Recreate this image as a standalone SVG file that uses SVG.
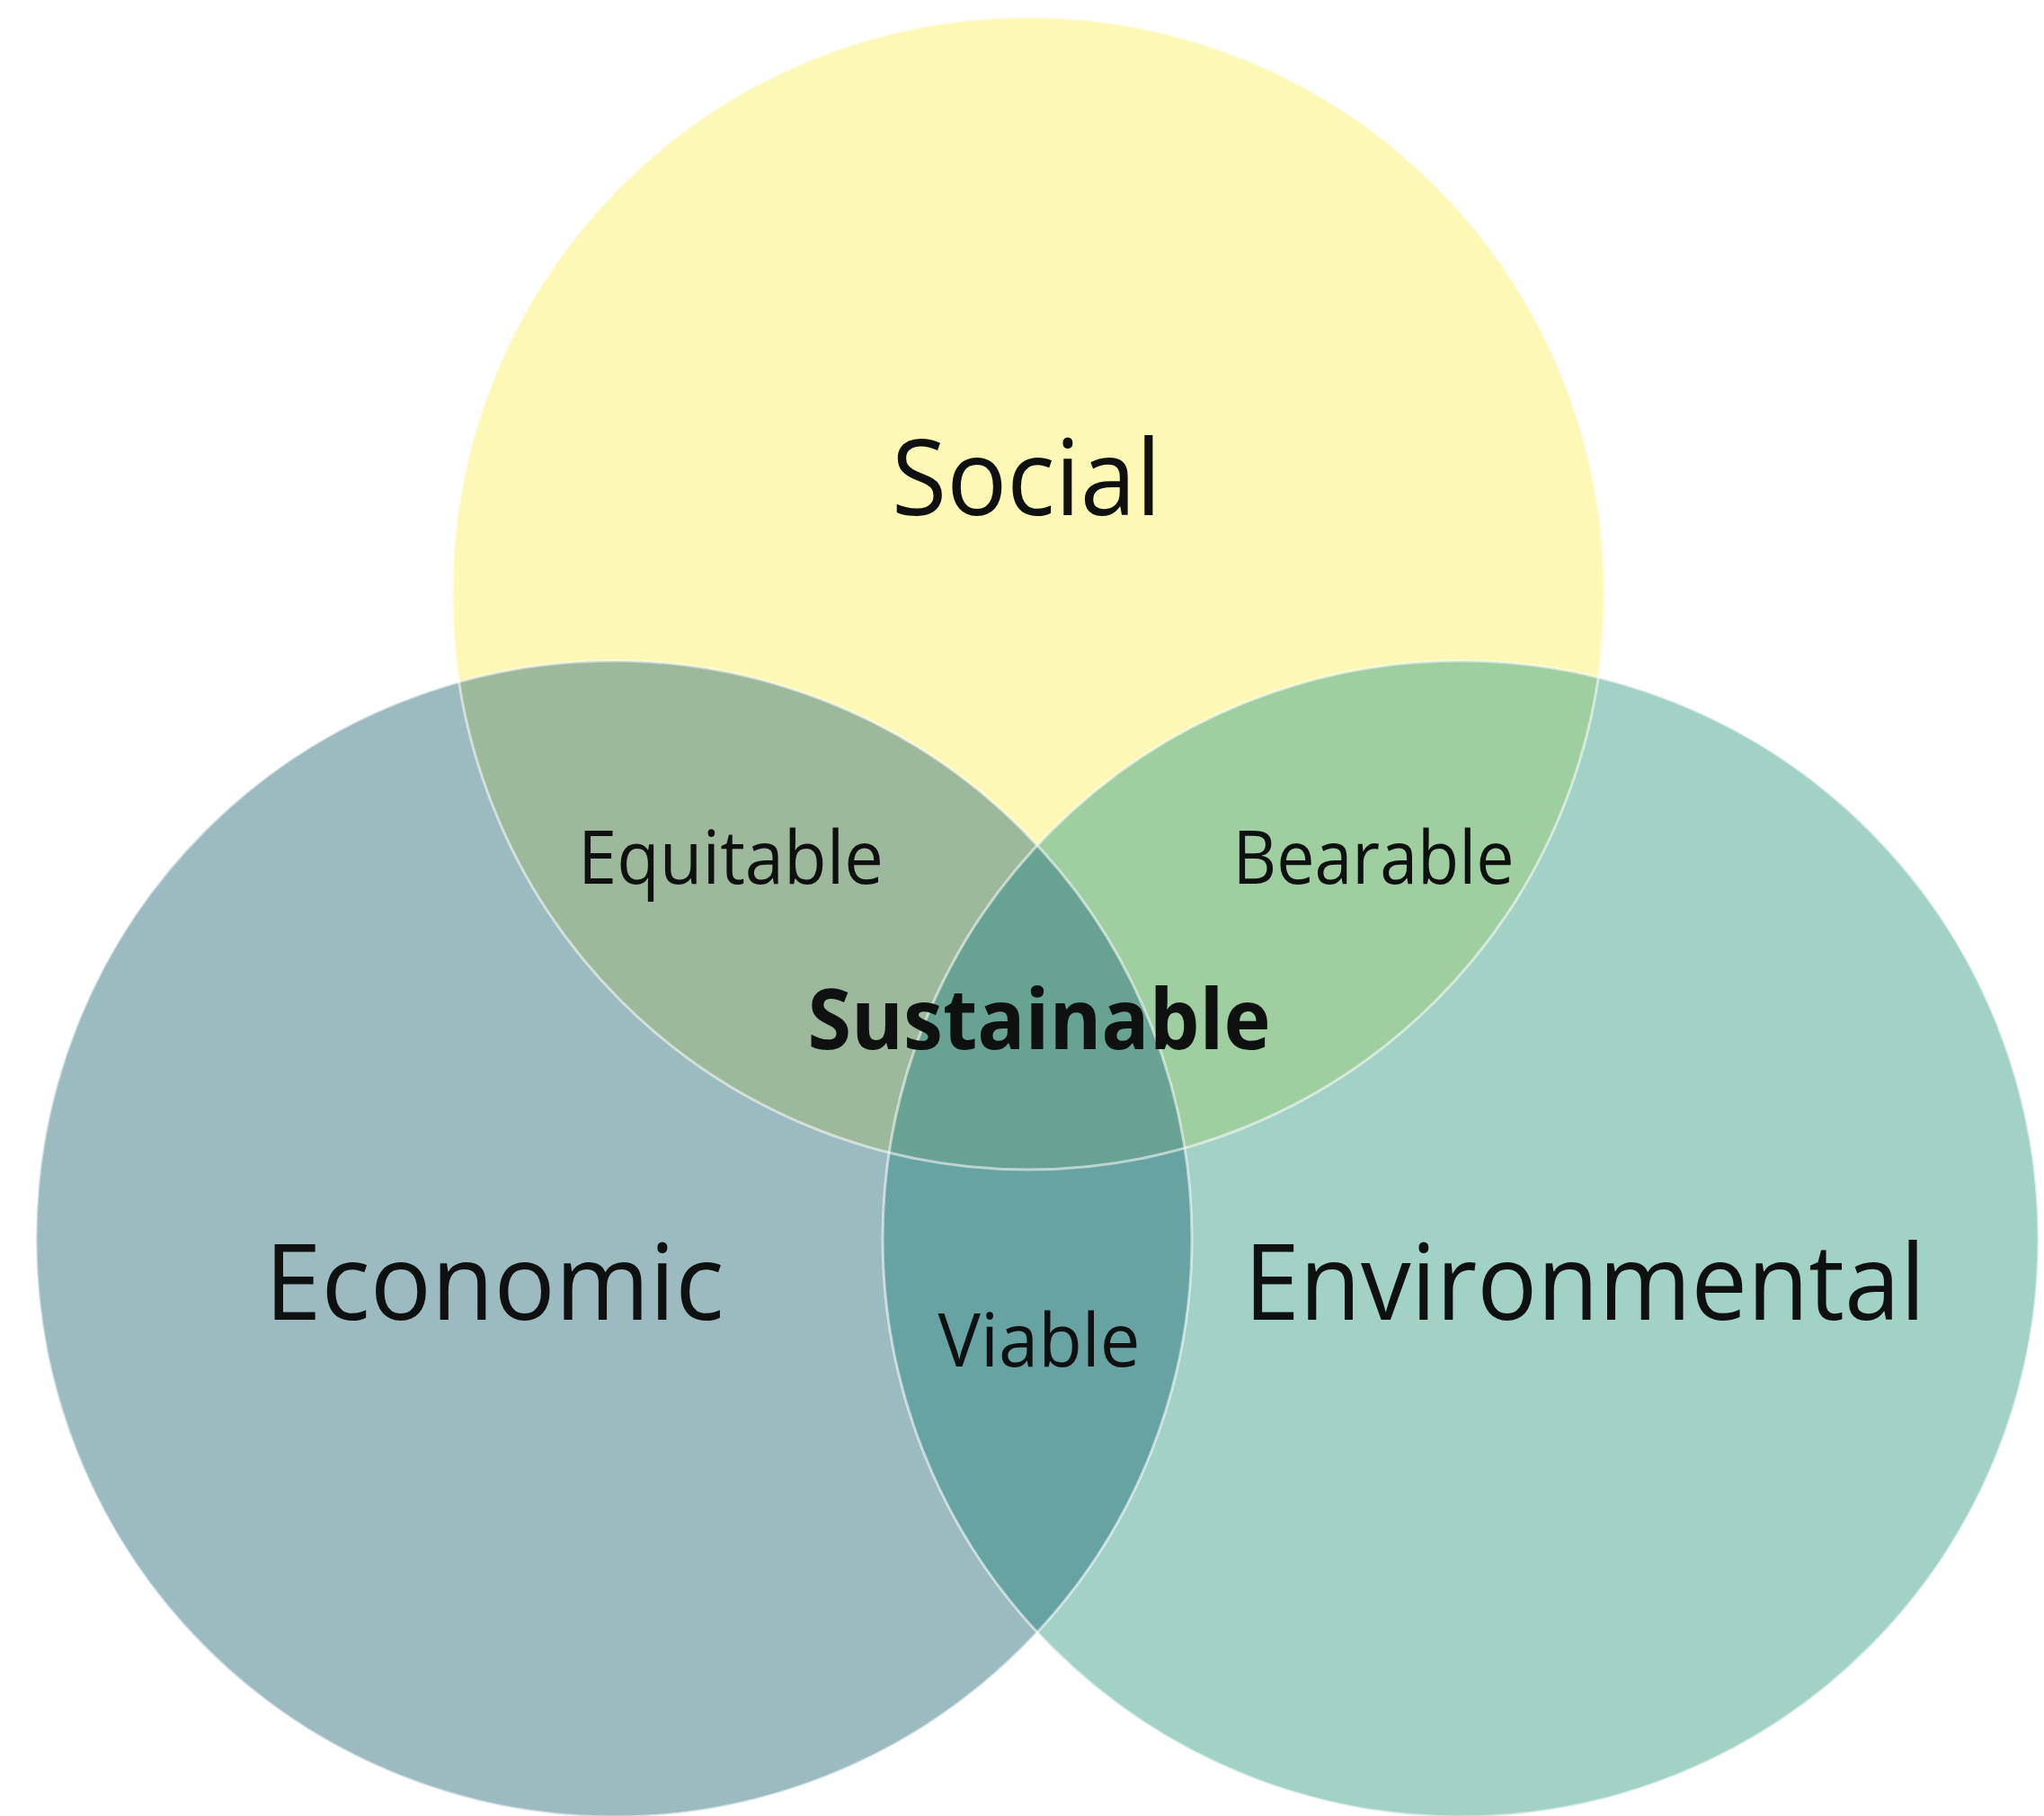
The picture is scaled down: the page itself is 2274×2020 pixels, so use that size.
<svg xmlns="http://www.w3.org/2000/svg" width="2274" height="2020" viewBox="0 0 2274 2020">
<style>
  text { font-family: "Open Sans", "Noto Sans", "DejaVu Sans", sans-serif; fill: #0e1110; text-anchor: middle; }
  .big { font-size: 118px; }
  .mid { font-size: 82px; }
  .bold { font-size: 94px; font-weight: 700; }
  .edge { fill: none; stroke: #ffffff; stroke-opacity: 0.55; stroke-width: 3; }
</style>
<defs>
  <circle id="cS" cx="1144" cy="660" r="641"/>
  <circle id="cEc" cx="683" cy="1378" r="643"/>
  <circle id="cEn" cx="1625" cy="1378" r="643"/>
  <clipPath id="clipS"><circle cx="1144" cy="660" r="641"/></clipPath>
  <clipPath id="clipEc"><circle cx="683" cy="1378" r="643"/></clipPath>
</defs>
<rect width="2274" height="2020" fill="#ffffff"/>

<g id="social">
  <use href="#cS" fill="#fdf8b5"/>
</g>
<g id="economic">
  <use href="#cEc" fill="#9bbbc0"/>
</g>
<g id="environmental">
  <use href="#cEn" fill="#a2d1c6"/>
</g>

<g id="overlaps">
  <g id="equitable-region" clip-path="url(#clipS)">
    <use href="#cEc" fill="#9db99b"/>
  </g>
  <g id="bearable-region" clip-path="url(#clipS)">
    <use href="#cEn" fill="#9fcfa0"/>
  </g>
  <g id="viable-region" clip-path="url(#clipEc)">
    <use href="#cEn" fill="#68a3a4"/>
  </g>
  <g id="sustainable-region" clip-path="url(#clipS)">
    <g clip-path="url(#clipEc)">
      <use href="#cEn" fill="#68a293"/>
    </g>
  </g>
</g>

<g id="outlines">
  <use href="#cS" class="edge"/>
  <use href="#cEc" class="edge"/>
  <use href="#cEn" class="edge" stroke-opacity="0.35"/>
</g>

<g id="connectors"/>

<g id="labels">
  <text class="big" x="1142" y="573" textLength="300" lengthAdjust="spacingAndGlyphs">Social</text>
  <text class="big" x="550" y="1468" textLength="511" lengthAdjust="spacingAndGlyphs">Economic</text>
  <text class="big" x="1763" y="1468" textLength="758" lengthAdjust="spacingAndGlyphs">Environmental</text>
  <text class="mid" x="813" y="983" textLength="340" lengthAdjust="spacingAndGlyphs">Equitable</text>
  <text class="mid" x="1528" y="983" textLength="313" lengthAdjust="spacingAndGlyphs">Bearable</text>
  <text class="bold" x="1156" y="1167" textLength="515" lengthAdjust="spacingAndGlyphs">Sustainable</text>
  <text class="mid" x="1156" y="1520" textLength="225" lengthAdjust="spacingAndGlyphs">Viable</text>
</g>
</svg>
